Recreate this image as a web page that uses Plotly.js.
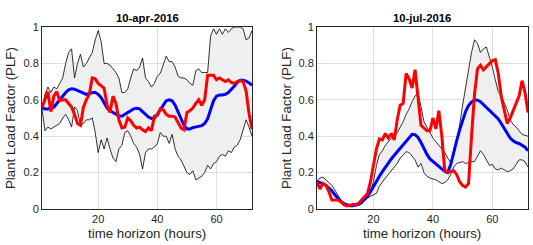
<!DOCTYPE html>
<html>
<head>
<meta charset="utf-8">
<script src="https://cdn.plot.ly/plotly-3.0.1.min.js"></script>
<style>html,body{margin:0;padding:0;background:#fff;}#chart{width:533px;height:245px;}</style>
</head>
<body>
<div id="chart"></div>
<script>
// hours 1..72
const hours = [1,2,3,4,5,6,7,8,9,10,11,12,13,14,15,16,17,18,19,20,21,22,23,24,25,26,27,28,29,30,31,32,33,34,35,36,
  37,38,39,40,41,42,43,44,45,46,47,48,49,50,51,52,53,54,55,56,57,58,59,60,61,62,63,64,65,66,67,68,69,70,71,72];

const panelTitles = ["10-apr-2016", "10-jul-2016"];

// ---- 10-apr-2016 ----
const aprUpper = [0.55,0.63,0.67,0.64,0.67,0.66,0.69,0.72,0.80,0.86,0.88,0.72,0.80,0.85,0.78,0.80,0.83,0.86,0.93,0.98,
  0.92,0.80,0.80,0.79,0.77,0.75,0.72,0.64,0.64,0.66,0.72,0.77,0.76,0.78,0.83,0.72,0.70,0.67,0.69,0.73,
  0.745,0.79,0.84,0.81,0.81,0.78,0.73,0.72,0.72,0.71,0.69,0.68,0.76,0.77,0.75,0.75,0.75,0.95,0.99,0.96,
  0.99,0.96,0.99,0.97,0.99,1.0,1.0,1.0,0.99,0.93,0.94,0.98];
const aprLower = [0.55,0.43,0.45,0.44,0.45,0.46,0.47,0.50,0.52,0.49,0.45,0.56,0.54,0.46,0.47,0.49,0.49,0.50,0.42,0.31,
  0.38,0.33,0.39,0.33,0.28,0.26,0.33,0.35,0.42,0.43,0.40,0.36,0.34,0.30,0.22,0.31,0.33,0.33,0.34,0.36,
  0.42,0.40,0.40,0.36,0.41,0.33,0.29,0.27,0.23,0.20,0.19,0.21,0.16,0.17,0.18,0.20,0.24,0.22,0.25,0.26,
  0.29,0.30,0.29,0.32,0.31,0.34,0.35,0.38,0.43,0.49,0.45,0.40];
const aprMean = [0.557,0.55,0.55,0.553,0.56,0.58,0.60,0.625,0.64,0.655,0.66,0.658,0.65,0.642,0.635,0.63,0.633,0.64,0.64,0.63,
  0.612,0.585,0.555,0.54,0.53,0.52,0.512,0.51,0.518,0.53,0.54,0.55,0.553,0.55,0.535,0.52,0.505,0.498,0.50,0.52,
  0.545,0.575,0.595,0.60,0.595,0.57,0.535,0.50,0.46,0.44,0.44,0.447,0.452,0.455,0.458,0.47,0.495,0.545,0.595,0.62,
  0.627,0.627,0.63,0.64,0.655,0.675,0.695,0.708,0.708,0.703,0.693,0.68];
const aprActual = [0.557,0.60,0.645,0.535,0.62,0.645,0.595,0.60,0.60,0.58,0.56,0.52,0.47,0.46,0.56,0.60,0.63,0.72,0.715,0.69,
  0.675,0.665,0.57,0.53,0.62,0.58,0.49,0.445,0.45,0.50,0.485,0.46,0.445,0.45,0.435,0.425,0.445,0.43,0.51,0.515,
  0.55,0.545,0.52,0.51,0.51,0.505,0.475,0.445,0.435,0.53,0.54,0.555,0.58,0.60,0.57,0.60,0.735,0.735,0.735,0.71,
  0.72,0.71,0.70,0.71,0.695,0.69,0.70,0.705,0.70,0.65,0.525,0.44];

// ---- 10-jul-2016 ----
const julUpper = [0.15,0.17,0.175,0.16,0.145,0.13,0.105,0.075,0.05,0.035,0.027,0.022,0.022,0.025,0.035,0.05,0.07,0.085,0.10,0.15,
  0.24,0.30,0.32,0.35,0.37,0.39,0.40,0.42,0.45,0.48,0.52,0.55,0.59,0.62,0.64,0.55,0.48,0.45,0.42,0.39,
  0.37,0.35,0.33,0.31,0.28,0.255,0.29,0.37,0.46,0.57,0.67,0.77,0.86,0.93,0.91,0.86,0.88,0.89,0.84,0.78,
  0.71,0.645,0.62,0.58,0.545,0.49,0.465,0.45,0.43,0.41,0.405,0.40];
const julLower = [0.15,0.14,0.135,0.13,0.115,0.105,0.085,0.06,0.04,0.027,0.02,0.016,0.016,0.016,0.02,0.028,0.045,0.06,0.07,0.08,
  0.086,0.125,0.15,0.17,0.19,0.21,0.23,0.25,0.28,0.30,0.315,0.31,0.29,0.27,0.23,0.25,0.20,0.18,0.17,0.165,
  0.16,0.15,0.14,0.145,0.16,0.19,0.23,0.25,0.255,0.26,0.25,0.255,0.26,0.26,0.29,0.32,0.30,0.27,0.24,0.245,
  0.22,0.215,0.225,0.215,0.205,0.21,0.22,0.245,0.27,0.27,0.26,0.23];
const julMean = [0.15,0.147,0.14,0.13,0.115,0.10,0.078,0.058,0.042,0.03,0.022,0.018,0.018,0.02,0.026,0.038,0.052,0.07,0.095,0.125,
  0.155,0.18,0.205,0.23,0.255,0.275,0.295,0.315,0.335,0.355,0.375,0.395,0.41,0.408,0.393,0.365,0.33,0.30,0.275,0.26,
  0.245,0.232,0.22,0.207,0.20,0.245,0.315,0.375,0.435,0.49,0.535,0.568,0.588,0.60,0.598,0.59,0.575,0.56,0.545,0.53,
  0.515,0.495,0.47,0.445,0.415,0.39,0.375,0.365,0.36,0.35,0.34,0.32];
const julActual = [0.15,0.11,0.14,0.13,0.095,0.05,0.05,0.05,0.04,0.025,0.017,0.022,0.025,0.025,0.03,0.05,0.065,0.085,0.15,0.25,
  0.33,0.385,0.38,0.415,0.39,0.415,0.38,0.49,0.57,0.58,0.745,0.715,0.665,0.765,0.62,0.46,0.445,0.43,0.43,0.50,
  0.44,0.54,0.40,0.21,0.205,0.205,0.21,0.19,0.15,0.13,0.12,0.14,0.40,0.63,0.77,0.79,0.765,0.78,0.80,0.815,
  0.82,0.745,0.62,0.545,0.47,0.50,0.545,0.58,0.62,0.705,0.64,0.53];

const panels = [
  {upper: aprUpper, lower: aprLower, mean: aprMean, actual: aprActual},
  {upper: julUpper, lower: julLower, mean: julMean, actual: julActual}
];

const traces = [];
panels.forEach((p, i) => {
  const xa = i === 0 ? 'x' : 'x2';
  const ya = i === 0 ? 'y' : 'y2';
  traces.push({
    x: hours.concat(hours.slice().reverse()),
    y: p.upper.concat(p.lower.slice().reverse()),
    type: 'scatter', mode: 'lines', fill: 'toself', fillcolor: '#efefef',
    line: {width: 0, color: 'rgba(0,0,0,0)'}, xaxis: xa, yaxis: ya, hoverinfo: 'skip'
  });
  traces.push({x: hours, y: p.upper, type: 'scatter', mode: 'lines', line: {color: '#000', width: 0.8}, xaxis: xa, yaxis: ya});
  traces.push({x: hours, y: p.lower, type: 'scatter', mode: 'lines', line: {color: '#000', width: 0.8}, xaxis: xa, yaxis: ya});
  traces.push({x: hours, y: p.mean, type: 'scatter', mode: 'lines', line: {color: '#0000ff', width: 3}, xaxis: xa, yaxis: ya});
  traces.push({x: hours, y: p.actual, type: 'scatter', mode: 'lines', line: {color: '#ff0000', width: 3}, xaxis: xa, yaxis: ya});
});

const W = 533, H = 245;
const tickFont = {family: 'Liberation Sans, Arial, sans-serif', size: 11, color: '#262626'};
const axBase = {
  showline: true, mirror: true, linecolor: '#262626', linewidth: 1,
  showgrid: true, gridcolor: '#dedede', gridwidth: 1, zeroline: false,
  ticks: '', tickfont: tickFont, fixedrange: true
};
const xCommon = Object.assign({}, axBase, {range: [1, 72], tickvals: [20, 40, 60]});
const yCommon = Object.assign({}, axBase, {range: [0, 1], tickvals: [0, 0.2, 0.4, 0.6, 0.8, 1], ticktext: ['0','0.2','0.4','0.6','0.8','1']});

const yDom = [1 - 209/H, 1 - 27/H];
const layout = {
  width: W, height: H, margin: {l: 0, r: 0, t: 0, b: 0},
  paper_bgcolor: '#fff', plot_bgcolor: '#fff', showlegend: false,
  xaxis: Object.assign({}, xCommon, {domain: [42/W, 252/W], anchor: 'y'}),
  yaxis: Object.assign({}, yCommon, {domain: yDom, anchor: 'x'}),
  xaxis2: Object.assign({}, xCommon, {domain: [317/W, 528/W], anchor: 'y2'}),
  yaxis2: Object.assign({}, yCommon, {domain: yDom, anchor: 'x2'}),
  annotations: []
};
const titleFont = {family: 'Liberation Sans, Arial, sans-serif', size: 11.3, color: '#000'};
const labFont = {family: 'Liberation Sans, Arial, sans-serif', size: 13.3, color: '#262626'};
const centers = [147, 422];
const yTitleX = [10, 286];
centers.forEach((c, i) => {
  layout.annotations.push({text: '<b>' + panelTitles[i] + '</b>', xref: 'paper', yref: 'paper', x: c/W, y: 1 - 18/H,
    xanchor: 'center', yanchor: 'middle', showarrow: false, font: titleFont});
  layout.annotations.push({text: 'time horizon (hours)', xref: 'paper', yref: 'paper', x: c/W, y: 1 - 233/H,
    xanchor: 'center', yanchor: 'middle', showarrow: false, font: labFont});
  layout.annotations.push({text: 'Plant Load Factor (PLF)', xref: 'paper', yref: 'paper', x: yTitleX[i]/W, y: 1 - 118/H,
    xanchor: 'center', yanchor: 'middle', textangle: -90, showarrow: false, font: labFont});
});

Plotly.newPlot('chart', traces, layout, {staticPlot: true, displayModeBar: false});
</script>
</body>
</html>
